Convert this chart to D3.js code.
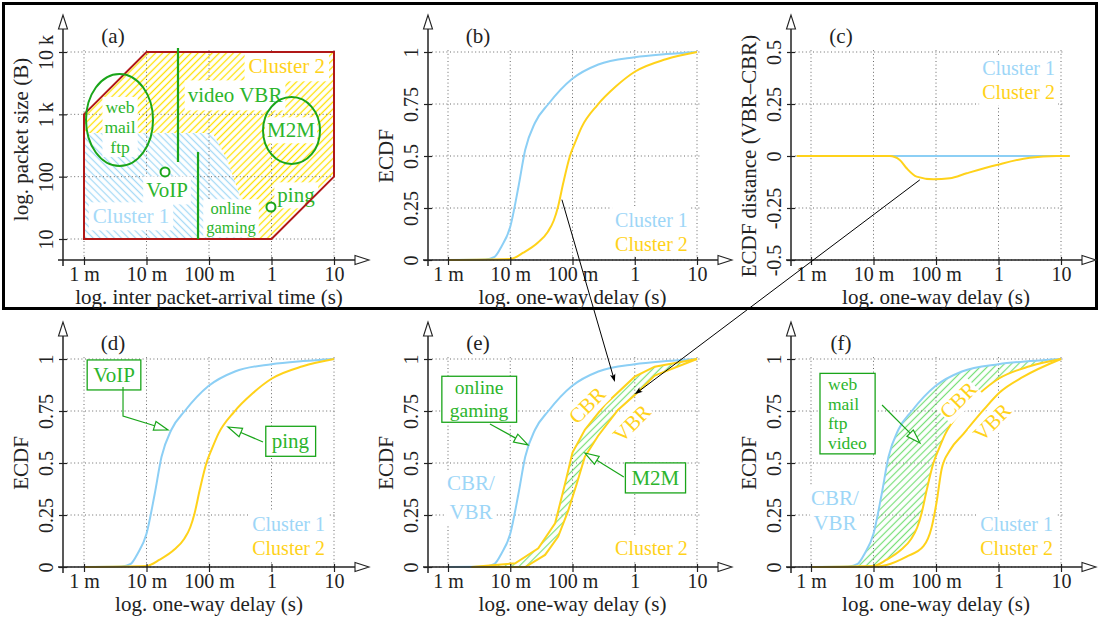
<!DOCTYPE html>
<html>
<head>
<meta charset="utf-8">
<script src="https://cdn.jsdelivr.net/npm/d3@7"></script>
<style>
  body { margin: 0; background: #fff; }
  svg text { font-family: "Liberation Serif", "DejaVu Serif", serif; }
</style>
</head>
<body>
<svg id="fig" width="1100" height="617"></svg>
<script>
// ---------- tick values and labels ----------
const delayTicks = [0.001, 0.01, 0.1, 1, 10];
const delayTickLabels = ["1 m", "10 m", "100 m", "1", "10"];
const sizeTicks = [10, 100, 1000, 10000];
const sizeTickLabels = ["10", "100", "1 k", "10 k"];
const ecdfTicks = [0, 0.25, 0.5, 0.75, 1];
const ecdfTickLabels = ["0", "0.25", "0.5", "0.75", "1"];
const distTicks = [-0.5, -0.25, 0, 0.25, 0.5];
const distTickLabels = ["-0.5", "-0.25", "0", "0.25", "0.5"];

// ---------- one-way delay ECDFs (delay in s) ----------
const cluster1Delay = [0.001, 0.004, 0.0056, 0.0072, 0.010, 0.0135, 0.0174, 0.025, 0.041, 0.098, 0.26, 1, 3.2, 10];
const cluster1Ecdf  = [0, 0.002, 0.015, 0.064, 0.16, 0.35, 0.53, 0.66, 0.75, 0.87, 0.94, 0.975, 0.99, 1];

const cluster2Delay = [0.001, 0.010, 0.0162, 0.0282, 0.040, 0.050, 0.059, 0.071, 0.091, 0.112, 0.141, 0.251, 0.50, 1, 3.16, 10];
const cluster2Ecdf  = [0, 0.005, 0.035, 0.085, 0.135, 0.19, 0.26, 0.37, 0.5, 0.57, 0.64, 0.745, 0.835, 0.905, 0.965, 1];

const cluster2VbrDelay = [0.00178, 0.010, 0.0162, 0.0339, 0.063, 0.085, 0.102, 0.123, 0.166, 0.275, 0.575, 1.05, 2.51, 10];
const cluster2VbrEcdf  = [0, 0.002, 0.01, 0.05, 0.10, 0.19, 0.31, 0.47, 0.56, 0.64, 0.755, 0.84, 0.915, 1];

// M2M traffic, constant vs. variable bit rate
const m2mCbrDelay = [0.0024, 0.012, 0.0282, 0.0525, 0.0759, 0.1, 0.158, 0.331, 1, 2.09, 10];
const m2mCbrEcdf  = [0, 0.018, 0.09, 0.21, 0.40, 0.55, 0.66, 0.78, 0.915, 0.963, 1];
const m2mVbrDelay = [0.0024, 0.0174, 0.0363, 0.0589, 0.0851, 0.117, 0.158, 0.257, 0.537, 1.12, 2.09, 10];
const m2mVbrEcdf  = [0, 0, 0.058, 0.146, 0.27, 0.40, 0.53, 0.63, 0.755, 0.84, 0.92, 1];

// ECDF distance VBR - CBR
const dist1Delay = [0.000589, 13.8];
const dist1Value = [0, 0];
const dist2Delay = [0.000589, 0.0182, 0.0263, 0.0339, 0.049, 0.0912, 0.166, 0.309, 0.933, 3.16, 8.51, 13.8];
const dist2Value = [0, 0, -0.019, -0.059, -0.099, -0.112, -0.107, -0.083, -0.043, -0.008, 0, 0];

// ---------- traffic map: inter packet-arrival time (s) vs packet size (B) ----------
const envelopeIat  = [0.001, 0.001, 0.01, 10, 10, 1];
const envelopeSize = [10, 1000, 10000, 10000, 100, 10];
const cluster1Iat  = [0.001, 0.001, 0.115, 0.195, 0.316, 0.457];
const cluster1Size = [10, 500, 500, 186, 47, 10];

// application areas (centre in data units, radii in decades)
const appEllipses = [
  { iat: 0.0037, size: 811, rx: 0.536, ry: 0.738 },
  { iat: 2.09, size: 551, rx: 0.456, ry: 0.537 }
];
const appBars = [
  { iat: 0.0319, from: 11600, to: 172 },
  { iat: 0.0667, from: 249, to: 10 }
];
const appPoints = [
  { iat: 0.0198, size: 119 },
  { iat: 0.98, size: 32.6 }
];

// ---------- styling ----------
const INK = "#222";
const BLUE = "#8ccff5";
const BLUE_TXT = "#9dd6f7";
const YELLOW = "#ffd21a";
const GREEN = "#1aa51a";
const GREEN_TXT = "#2cb52c";
const RED = "#b01818";
const FS = 21;
const TICK_FS = 20;

const svg = d3.select("#fig");
const defs = svg.append("defs");

function hatch(id, color, angle, gap, w) {
  const p = defs.append("pattern").attr("id", id)
    .attr("patternUnits", "userSpaceOnUse")
    .attr("width", gap).attr("height", gap)
    .attr("patternTransform", `rotate(${angle})`);
  p.append("line").attr("x1", gap / 2).attr("x2", gap / 2)
    .attr("y1", 0).attr("y2", gap)
    .attr("stroke", color).attr("stroke-width", w);
}
hatch("hatchYellow", "#ffe100", 45, 5, 1.3);
hatch("hatchBlue", "#a6daf6", -45, 5, 1.3);
hatch("hatchGreen", "#79e079", 45, 5, 1.2);

// frame around the upper row
svg.append("rect").attr("x", 3.5).attr("y", 3.5).attr("width", 1093).attr("height", 305)
  .attr("fill", "none").attr("stroke", "#000").attr("stroke-width", 3);

// ---------- panel scaffolding ----------
function makePanel(cfg) {
  const g = svg.append("g");
  const x = d3.scaleLog().domain([0.001, 10]).range(cfg.xr);
  const y = (cfg.yLog ? d3.scaleLog() : d3.scaleLinear()).domain(cfg.yDomain).range(cfg.yr);
  const layers = {
    fill: g.append("g"), grid: g.append("g"), data: g.append("g"),
    axes: g.append("g"), text: g.append("g"), top: g.append("g")
  };
  const p = { g, x, y, cfg, layers };
  drawGrid(p);
  drawAxes(p);
  return p;
}

function drawGrid(p) {
  const { cfg, x, y } = p;
  const gg = p.layers.grid.attr("stroke", "#6a6a6a").attr("stroke-width", 1)
    .attr("stroke-dasharray", "1 2.6").attr("fill", "none");
  const top = y(cfg.yTicks[cfg.yTicks.length - 1]) - 3;
  const right = x(delayTicks[delayTicks.length - 1]) + 3;
  delayTicks.forEach(t => gg.append("line")
    .attr("x1", x(t)).attr("x2", x(t)).attr("y1", cfg.oy).attr("y2", top));
  cfg.yTicks.forEach(t => gg.append("line")
    .attr("x1", cfg.ox + 4).attr("x2", right).attr("y1", y(t)).attr("y2", y(t)));
}

function drawAxes(p) {
  const { cfg, x, y } = p;
  const ga = p.layers.axes;
  const xTip = x(10) + 35;
  const yTip = y(cfg.yTicks[cfg.yTicks.length - 1]) - 37;

  // bottom axis
  const xa = ga.append("g").attr("transform", `translate(0,${cfg.oy})`)
    .call(d3.axisBottom(x).tickValues(delayTicks).tickFormat((d, i) => delayTickLabels[i]).tickSize(5));
  xa.select(".domain").remove();
  xa.attr("font-family", null).attr("font-size", null);
  xa.selectAll(".tick line").attr("y1", -3).attr("y2", 5).attr("stroke", INK).attr("stroke-width", 1.2);
  xa.selectAll(".tick text").attr("y", 14).attr("dy", "0.35em")
    .attr("font-size", TICK_FS).attr("fill", INK);

  // left axis
  const ya = ga.append("g").attr("transform", `translate(${cfg.ox},0)`)
    .call(d3.axisLeft(y).tickValues(cfg.yTicks).tickFormat((d, i) => cfg.yTickLabels[i]).tickSize(4));
  ya.select(".domain").remove();
  ya.attr("font-family", null).attr("font-size", null);
  ya.selectAll(".tick line").attr("x1", 4).attr("x2", -4).attr("stroke", INK).attr("stroke-width", 1.2);
  ya.selectAll(".tick text").attr("x", null).attr("dy", "0.35em").attr("text-anchor", "middle")
    .attr("transform", "translate(-17,0) rotate(-90)")
    .attr("font-size", TICK_FS).attr("fill", INK);

  // axis lines with open arrow heads
  ga.append("line").attr("x1", cfg.ox - 5).attr("x2", xTip - 14)
    .attr("y1", cfg.oy).attr("y2", cfg.oy).attr("stroke", INK).attr("stroke-width", 1.5);
  ga.append("path").attr("d", `M${xTip},${cfg.oy} L${xTip - 14},${cfg.oy - 4.5} L${xTip - 14},${cfg.oy + 4.5} Z`)
    .attr("fill", "#fff").attr("stroke", INK).attr("stroke-width", 1.1);
  ga.append("line").attr("x1", cfg.ox).attr("x2", cfg.ox)
    .attr("y1", cfg.oy + 6).attr("y2", yTip + 14).attr("stroke", INK).attr("stroke-width", 1.5);
  ga.append("path").attr("d", `M${cfg.ox},${yTip} L${cfg.ox - 4.5},${yTip + 14} L${cfg.ox + 4.5},${yTip + 14} Z`)
    .attr("fill", "#fff").attr("stroke", INK).attr("stroke-width", 1.1);

  // titles
  ga.append("text").attr("x", (x(0.001) + x(10)) / 2).attr("y", cfg.oy + 37).attr("dy", "0.35em")
    .attr("text-anchor", "middle").attr("font-size", FS).attr("fill", INK).text(cfg.xTitle);
  ga.append("text").attr("transform", `translate(${cfg.ox - 42},${(cfg.yr[0] + cfg.yr[1]) / 2 + (cfg.yTitleShift || 0)}) rotate(-90)`)
    .attr("dy", "0.35em").attr("text-anchor", "middle").attr("font-size", FS).attr("fill", INK).text(cfg.yTitle);
  ga.append("text").attr("x", cfg.ox + 50).attr("y", y(cfg.yTicks[cfg.yTicks.length - 1]) - 16)
    .attr("dy", "0.35em").attr("text-anchor", "middle").attr("font-size", FS).attr("fill", INK).text(cfg.tag);
}

// (multi-line) text with a white, optionally framed, backing box
function boxedText(parent, x, y, lines, opt) {
  const g = parent.append("g")
    .attr("transform", `translate(${x},${y})` + (opt.rotate ? ` rotate(${opt.rotate})` : ""));
  const n = lines.length, lh = opt.lineHeight || FS * 0.9;
  const t = g.append("text")
    .attr("text-anchor", opt.anchor || "middle")
    .attr("font-size", opt.size || FS);
  lines.forEach((s, i) => t.append("tspan")
    .attr("x", 0).attr("y", (i - (n - 1) / 2) * lh).attr("dy", "0.35em")
    .attr("fill", opt.colors ? opt.colors[i] : opt.color).text(s));
  const bb = g.node().getBBox();
  const px = opt.padX ?? 2, py = opt.padY ?? 1;
  g.insert("rect", ":first-child")
    .attr("x", bb.x - px).attr("y", bb.y - py)
    .attr("width", bb.width + 2 * px).attr("height", bb.height + 2 * py)
    .attr("fill", "#fff")
    .attr("stroke", opt.stroke || "none").attr("stroke-width", 1.3);
  return g;
}

function curve(p, xs, ys, color, smooth) {
  const pts = xs.map((d, i) => [d, ys[i]]);
  p.layers.data.append("path")
    .attr("d", d3.line().x(d => p.x(d[0])).y(d => p.y(d[1]))
      .curve(smooth ? d3.curveMonotoneX : d3.curveLinear)(pts))
    .attr("fill", "none").attr("stroke", color).attr("stroke-width", 2);
}

// hatched band between an upper curve and a lower curve
let clipCount = 0;
function band(p, upX, upY, loX, loY, smooth) {
  const c = smooth ? d3.curveMonotoneX : d3.curveLinear;
  const id = "band" + (clipCount++);
  const top = p.y(1) - 6, base = p.y(0);
  const lo = loX.map((d, i) => [d, loY[i]]);
  const up = upX.map((d, i) => [d, upY[i]]);
  defs.append("clipPath").attr("id", id).append("path")
    .attr("d", d3.area().x(d => p.x(d[0])).y0(d => p.y(d[1])).y1(top).curve(c)(lo));
  p.layers.fill.append("path")
    .attr("d", d3.area().x(d => p.x(d[0])).y0(base).y1(d => p.y(d[1])).curve(c)(up))
    .attr("fill", "url(#hatchGreen)").attr("clip-path", `url(#${id})`);
}

// polyline ending in an open arrow head
function greenArrow(parent, pts) {
  const [a, b] = [pts[pts.length - 2], pts[pts.length - 1]];
  const dx = b[0] - a[0], dy = b[1] - a[1], L = Math.hypot(dx, dy);
  const ux = dx / L, uy = dy / L, len = 14, hw = 4.5;
  const bx = b[0] - ux * len, by = b[1] - uy * len;
  const line = pts.slice(0, -1).concat([[bx, by]]);
  parent.append("path").attr("d", d3.line()(line))
    .attr("fill", "none").attr("stroke", GREEN).attr("stroke-width", 1.2);
  parent.append("path")
    .attr("d", `M${b[0]},${b[1]} L${bx - uy * hw},${by + ux * hw} L${bx + uy * hw},${by - ux * hw} Z`)
    .attr("fill", "#fff").attr("stroke", GREEN).attr("stroke-width", 1.2);
}

function blackArrow(parent, a, b) {
  const dx = b[0] - a[0], dy = b[1] - a[1], L = Math.hypot(dx, dy);
  const ux = dx / L, uy = dy / L, len = 8, hw = 2.8;
  const bx = b[0] - ux * len, by = b[1] - uy * len;
  parent.append("line").attr("x1", a[0]).attr("y1", a[1]).attr("x2", b[0] - ux * 3).attr("y2", b[1] - uy * 3)
    .attr("stroke", "#000").attr("stroke-width", 1);
  parent.append("path")
    .attr("d", `M${b[0]},${b[1]} L${bx - uy * hw},${by + ux * hw} Q${b[0] - ux * 5},${b[1] - uy * 5} ${bx + uy * hw},${by - ux * hw} Z`)
    .attr("fill", "#000");
}

const ecdfCfg = { yDomain: [0, 1], yTicks: ecdfTicks, yTickLabels: ecdfTickLabels, yTitle: "ECDF",
  xTitle: "log. one-way delay (s)" };
const legendColors = [BLUE_TXT, YELLOW];
const legendOpt = { colors: legendColors, anchor: "end", size: 20, lineHeight: 24, padX: 3, padY: 2 };

// ---------- (a) traffic map ----------
const pa = makePanel({ ox: 63, oy: 260, xr: [84, 334], yLog: true, yDomain: [10, 10000], yr: [239, 52],
  yTicks: sizeTicks, yTickLabels: sizeTickLabels, tag: "(a)",
  xTitle: "log. inter packet-arrival time (s)", yTitle: "log. packet size (B)", yTitleShift: -6 });
{
  const env = envelopeIat.map((d, i) => [pa.x(d), pa.y(envelopeSize[i])]);
  const c1 = cluster1Iat.map((d, i) => [pa.x(d), pa.y(cluster1Size[i])]);
  const poly = d3.line().curve(d3.curveLinearClosed);
  pa.layers.fill.append("path").attr("d", poly(env)).attr("fill", "url(#hatchYellow)");
  pa.layers.fill.append("path").attr("d", poly(c1)).attr("fill", "#fff");
  pa.layers.fill.append("path").attr("d", poly(c1)).attr("fill", "url(#hatchBlue)");

  const T = pa.layers.text;
  boxedText(T, pa.x(7.18), pa.y(5970), ["Cluster 2"], { color: YELLOW, anchor: "end", padX: 4, padY: 3 });
  boxedText(T, pa.x(0.261), pa.y(2040), ["video VBR"], { color: GREEN_TXT, padX: 3, padY: 3 });
  boxedText(T, pa.x(0.00377), pa.y(631), ["web", "mail", "ftp"], { color: GREEN_TXT, size: 17.5, lineHeight: 20, padX: 2, padY: 0 });
  boxedText(T, pa.x(2.05), pa.y(561), ["M2M"], { color: GREEN_TXT, padX: 2, padY: 1 });
  boxedText(T, pa.x(0.0213), pa.y(61), ["VoIP"], { color: GREEN_TXT, padX: 3, padY: 2 });
  boxedText(T, pa.x(0.00565), pa.y(23.4), ["Cluster 1"], { color: "#a6daf8", padX: 4, padY: 2 });
  boxedText(T, pa.x(0.225), pa.y(21.7), ["online", "gaming"], { color: GREEN_TXT, size: 16.5, lineHeight: 19, padX: 3, padY: 0 });
  boxedText(T, pa.x(2.47), pa.y(50.8), ["ping"], { color: GREEN_TXT, padX: 3, padY: 1 });

  const G = pa.layers.top;
  G.append("path").attr("d", poly(env)).attr("fill", "none").attr("stroke", RED).attr("stroke-width", 2);
  appEllipses.forEach(e => {
    const cx = pa.x(e.iat), cy = pa.y(e.size);
    G.append("ellipse").attr("cx", cx).attr("cy", cy)
      .attr("rx", pa.x(e.iat * Math.pow(10, e.rx)) - cx)
      .attr("ry", cy - pa.y(e.size * Math.pow(10, e.ry)))
      .attr("fill", "none").attr("stroke", GREEN).attr("stroke-width", 2);
  });
  appBars.forEach(b => G.append("line").attr("x1", pa.x(b.iat)).attr("x2", pa.x(b.iat))
    .attr("y1", pa.y(b.from)).attr("y2", pa.y(b.to)).attr("stroke", GREEN).attr("stroke-width", 2.2));
  appPoints.forEach(q => G.append("circle").attr("cx", pa.x(q.iat)).attr("cy", pa.y(q.size)).attr("r", 4.5)
    .attr("fill", "#fff").attr("stroke", GREEN).attr("stroke-width", 2));
}

// ---------- (b) ECDF per cluster ----------
const pb = makePanel(Object.assign({ ox: 428, oy: 260, xr: [448, 697], yr: [260, 52], tag: "(b)" }, ecdfCfg));
boxedText(pb.layers.text, pb.x(7.13), pb.y(0.137), ["Cluster 1", "Cluster 2"], legendOpt);
curve(pb, cluster1Delay, cluster1Ecdf, BLUE, true);
curve(pb, cluster2Delay, cluster2Ecdf, YELLOW, true);

// ---------- (c) ECDF distance ----------
const pc = makePanel({ ox: 791, oy: 260, xr: [811, 1061], yr: [260, 52], yDomain: [-0.5, 0.5],
  yTicks: distTicks, yTickLabels: distTickLabels, tag: "(c)",
  xTitle: "log. one-way delay (s)", yTitle: "ECDF distance (VBR–CBR)" });
boxedText(pc.layers.text, pc.x(8.0), pc.y(0.365), ["Cluster 1", "Cluster 2"], legendOpt);
curve(pc, dist1Delay, dist1Value, BLUE, false);
curve(pc, dist2Delay, dist2Value, YELLOW, true);

// ---------- (d) ECDF with VoIP / ping ----------
const pd = makePanel(Object.assign({ ox: 63, oy: 567, xr: [84, 334], yr: [567, 359], tag: "(d)" }, ecdfCfg));
boxedText(pd.layers.text, pd.x(7.18), pd.y(0.151), ["Cluster 1", "Cluster 2"], legendOpt);
curve(pd, cluster1Delay, cluster1Ecdf, BLUE, true);
curve(pd, cluster2Delay, cluster2Ecdf, YELLOW, true);
boxedText(pd.layers.top, pd.x(0.00302), pd.y(0.925), ["VoIP"], { color: GREEN_TXT, stroke: GREEN, padX: 6, padY: 3 });
boxedText(pd.layers.top, pd.x(2.01), pd.y(0.606), ["ping"], { color: GREEN_TXT, stroke: GREEN, padX: 6, padY: 3 });
greenArrow(pd.layers.top, [[pd.x(0.00421), pd.y(0.865)], [pd.x(0.00421), pd.y(0.726)], [pd.x(0.0221), pd.y(0.659)]]);
greenArrow(pd.layers.top, [[pd.x(0.731), pd.y(0.601)], [pd.x(0.201), pd.y(0.673)]]);

// ---------- (e) M2M CBR vs VBR ----------
const pe = makePanel(Object.assign({ ox: 428, oy: 567, xr: [448, 697], yr: [567, 359], tag: "(e)" }, ecdfCfg));
band(pe, m2mCbrDelay, m2mCbrEcdf, m2mVbrDelay, m2mVbrEcdf, false);
curve(pe, cluster1Delay, cluster1Ecdf, BLUE, true);
curve(pe, m2mCbrDelay, m2mCbrEcdf, YELLOW, false);
curve(pe, m2mVbrDelay, m2mVbrEcdf, YELLOW, false);
boxedText(pe.layers.text, pe.x(0.00234), pe.y(0.334), ["CBR/", "VBR"], { color: BLUE_TXT, lineHeight: 29, padX: 1, padY: 1 });
boxedText(pe.layers.text, pe.x(0.17), pe.y(0.779), ["CBR"], { color: YELLOW, rotate: -45, padX: 1, padY: 0 });
boxedText(pe.layers.text, pe.x(0.897), pe.y(0.692), ["VBR"], { color: YELLOW, rotate: -45, padX: 1, padY: 0 });
boxedText(pe.layers.text, pe.x(7.13), pe.y(0.091), ["Cluster 2"], { color: YELLOW, anchor: "end", size: 20, padX: 3, padY: 2 });
boxedText(pe.layers.top, pe.x(0.00316), pe.y(0.808), ["online", "gaming"], { color: GREEN_TXT, stroke: GREEN, size: 19.5, lineHeight: 23, padX: 8, padY: 1 });
boxedText(pe.layers.top, pe.x(2.14), pe.y(0.43), ["M2M"], { color: GREEN_TXT, stroke: GREEN, padX: 6, padY: 3 });
greenArrow(pe.layers.top, [[pe.x(0.00472), pe.y(0.6875)], [pe.x(0.0192), pe.y(0.587)]]);
greenArrow(pe.layers.top, [[pe.x(0.668), pe.y(0.433)], [pe.x(0.158), pe.y(0.548)]]);

// ---------- (f) web / mail / ftp / video ----------
const pf = makePanel(Object.assign({ ox: 791, oy: 567, xr: [811, 1061], yr: [567, 359], tag: "(f)" }, ecdfCfg));
band(pf, cluster1Delay, cluster1Ecdf, cluster2Delay, cluster2Ecdf, true);
curve(pf, cluster1Delay, cluster1Ecdf, BLUE, true);
curve(pf, cluster2Delay, cluster2Ecdf, YELLOW, true);
curve(pf, cluster2VbrDelay, cluster2VbrEcdf, YELLOW, true);
boxedText(pf.layers.text, pf.x(0.00242), pf.y(0.272), ["CBR/", "VBR"], { color: BLUE_TXT, lineHeight: 25, padX: 1, padY: 1 });
boxedText(pf.layers.text, pf.x(0.225), pf.y(0.803), ["CBR"], { color: YELLOW, rotate: -45, padX: 1, padY: 0 });
boxedText(pf.layers.text, pf.x(0.787), pf.y(0.697), ["VBR"], { color: YELLOW, rotate: -45, padX: 1, padY: 0 });
boxedText(pf.layers.text, pf.x(7.45), pf.y(0.151), ["Cluster 1", "Cluster 2"], legendOpt);
boxedText(pf.layers.top, pf.x(0.00187), pf.y(0.738), ["web", "mail", "ftp", "video"],
  { color: GREEN_TXT, stroke: GREEN, anchor: "start", size: 17.5, lineHeight: 19.5, padX: 8, padY: 1 });
greenArrow(pf.layers.top, [[pf.x(0.0137), pf.y(0.779)], [pf.x(0.0555), pf.y(0.596)]]);

// ---------- links from (b) and (c) into (e) ----------
const links = svg.append("g");
blackArrow(links, [pb.x(0.0676), pb.y(0.29)], [pe.x(0.479), pe.y(0.89)]);
blackArrow(links, [pc.x(0.055), pc.y(-0.115)], [pe.x(1.0), pe.y(0.83)]);
</script>
</body>
</html>
